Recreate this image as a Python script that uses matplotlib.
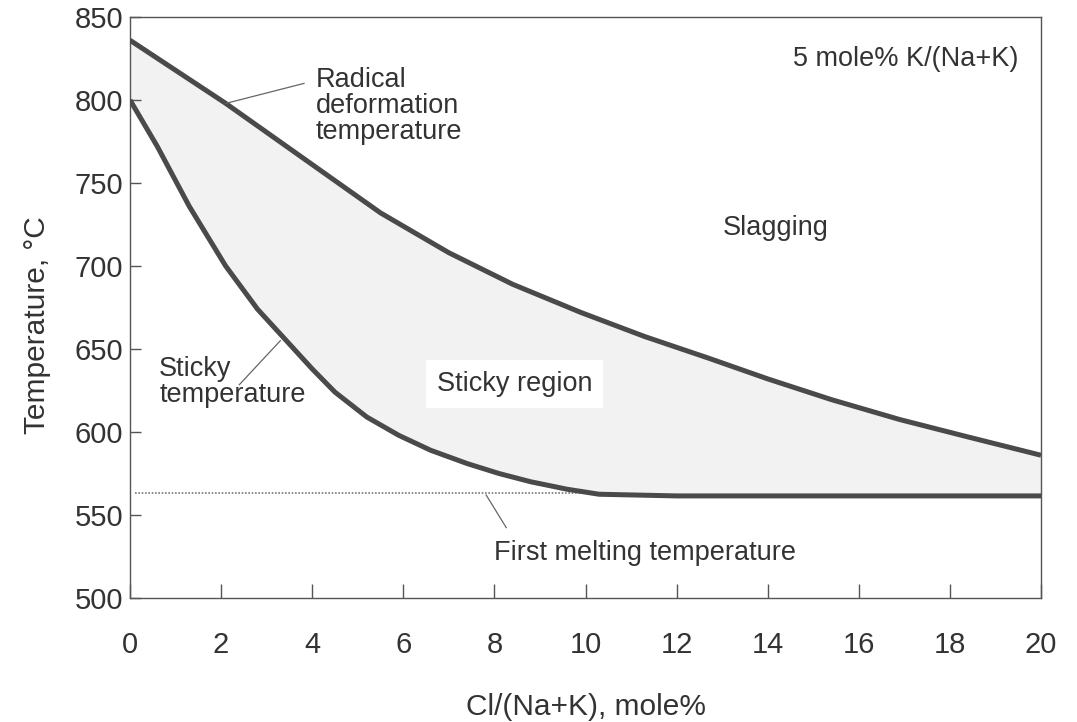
import numpy as np
import matplotlib.pyplot as plt

# radical deformation temperature (upper curve)
x_rad = [0, 2.1, 3.8, 5.5, 7.0, 8.4, 9.9, 11.3, 12.7, 14.0, 15.4, 16.9, 18.4, 20]
t_rad = [836, 798, 765, 732, 708, 689, 672, 657.5, 644.5, 632, 619.5, 607.5, 597, 586]

# sticky temperature (lower curve)
x_sticky = [0, 0.6, 1.3, 2.1, 2.8, 3.5, 4.0, 4.5, 5.2, 5.9, 6.6, 7.4, 8.1, 8.8, 9.6, 10.3, 12, 14, 16, 18, 20]
t_sticky = [800, 772, 736, 700, 674, 653, 638, 624, 609, 598, 589, 581, 575, 570, 565.5, 562.5,
             561.5, 561.5, 561.5, 561.5, 561.5]

# first melting temperature (dotted)
x_melt = [0.1, 10.3]
t_melt = [563, 563]

x_ticks = [0, 2, 4, 6, 8, 10, 12, 14, 16, 18, 20]
y_ticks = [500, 550, 600, 650, 700, 750, 800, 850]

plt.rcParams['font.family'] = ['Liberation Sans', 'DejaVu Sans']
txt = '#333333'
line_c = '#4a4a4a'

fig = plt.figure(figsize=(10.77, 7.22), dpi=100)
ax = fig.add_axes([130 / 1077, 1 - 598 / 722, 911 / 1077, 581 / 722])

# shaded sticky region between the two curves
xs = np.array(sorted(set(x_rad) | set(x_sticky)), dtype=float)
ax.fill_between(xs, np.interp(xs, x_sticky, t_sticky), np.interp(xs, x_rad, t_rad),
                color='#f2f2f2', lw=0, zorder=1)

ax.plot(x_melt, t_melt, ls=(0, (1, 1)), color='#777777', lw=1.2, zorder=2)
ax.plot(x_rad, t_rad, color=line_c, lw=3.6, solid_capstyle='butt',
        solid_joinstyle='round', zorder=3)
ax.plot(x_sticky, t_sticky, color=line_c, lw=3.6, solid_capstyle='butt',
        solid_joinstyle='round', zorder=3)

ax.set_xlim(0, 20)
ax.set_ylim(500, 850)
ax.set_xticks(x_ticks)
ax.set_yticks(y_ticks)
ax.tick_params(axis='x', direction='in', length=10, width=1, color='#555555',
               labelsize=21, labelcolor=txt, pad=24)
ax.tick_params(axis='y', direction='in', length=8, width=1, color='#555555',
               labelsize=21, labelcolor=txt, pad=5)
for s in ax.spines.values():
    s.set_color('#555555')
    s.set_linewidth(1)

ax.set_xlabel('Cl/(Na+K), mole%', fontsize=21.5, color=txt, labelpad=24)
ax.set_ylabel('Temperature, °C', fontsize=21.5, color=txt)
ax.yaxis.set_label_coords(-0.087, 0.47)

fs = 19.5
ax.text(4.07, 820, 'Radical\ndeformation\ntemperature', fontsize=fs, color=txt,
        va='top', ha='left', linespacing=1.0, zorder=4)
ax.plot([2.11, 3.82], [798, 810], color='#666666', lw=0.9, zorder=4)

ax.text(0.64, 646, 'Sticky\ntemperature', fontsize=fs, color=txt,
        va='top', ha='left', linespacing=1.0, zorder=4)
ax.plot([2.4, 3.3], [628.5, 655], color='#666666', lw=0.9, zorder=4)

ax.text(8.0, 527, 'First melting temperature', fontsize=fs, color=txt,
        va='center', ha='left', zorder=4)
ax.plot([7.82, 8.26], [562, 542.4], color='#666666', lw=0.9, zorder=4)

ax.text(8.44, 629, 'Sticky region', fontsize=fs, color=txt, va='center', ha='center',
        bbox=dict(facecolor='white', edgecolor='none', pad=8), zorder=4)
ax.text(14.18, 723, 'Slagging', fontsize=fs, color=txt, va='center', ha='center', zorder=4)
ax.text(17.03, 825, '5 mole% K/(Na+K)', fontsize=fs, color=txt, va='center', ha='center', zorder=4)

fig.savefig('out.png', dpi=100)
